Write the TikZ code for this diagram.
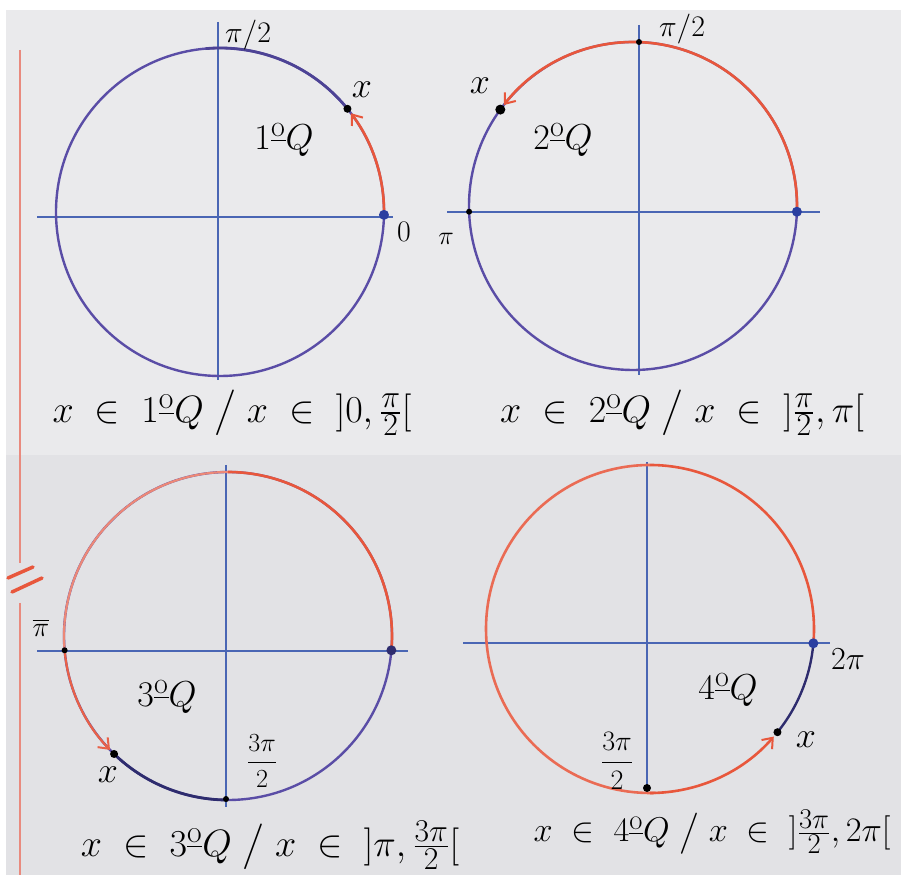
\documentclass[tikz,border=0pt]{standalone}
\usepackage{amsmath}
\usetikzlibrary{arrows.meta,calc}
\newcommand{\myord}{^{\underline{\mathrm{o}}}}
\definecolor{board}{HTML}{EAEAEC}
\definecolor{boardlow}{HTML}{E2E2E5}
\definecolor{circcol}{HTML}{5A4DA6}
\definecolor{axiscol}{HTML}{4A66B4}
\definecolor{arcred}{HTML}{E8573C}
\definecolor{lightred}{HTML}{EC8877}
\definecolor{navy}{HTML}{2E2C6E}
\definecolor{dotblue}{HTML}{2B3FA0}
\definecolor{margincol}{HTML}{E98A7E}
\begin{document}
\begin{tikzpicture}[x=1pt,y=1pt,
  circ/.style={draw=circcol, line width=2.4pt},
  axisline/.style={draw=axiscol, line width=1.6pt},
  redarc/.style={draw=arcred, line width=2.6pt},
  lightarc/.style={draw=lightred, line width=2.2pt},
  navyarc/.style={draw=navy, line width=2.8pt},
  arr/.style={-{Straight Barb[length=9pt,width=14pt,line width=2pt]}},
  dot/.style={fill=black, circle, inner sep=0pt, minimum size=8pt},
  bdot/.style={fill=dotblue, circle, inner sep=0pt, minimum size=10pt},
  lbl/.style={font=\Huge, inner sep=0pt, scale=1.2},
  xlbl/.style={font=\Huge, inner sep=0pt, scale=1.45},
  qlbl/.style={font=\Huge, inner sep=0pt, scale=1.45},
  fraclbl/.style={font=\Huge, inner sep=0pt, scale=1.05},
  captext/.style={font=\Huge, inner sep=0pt, scale=1.53},
]
\useasboundingbox (0,0) rectangle (901,875);
\fill[white] (0,0) rectangle (901,875);
\fill[boardlow] (6,0) rectangle (901,420);
\fill[board] (6,420) rectangle (901,865);

% left margin line with break marks
\coordinate (m1) at (20,825);
\coordinate (m2) at (20,312);
\coordinate (m3) at (20,272);
\coordinate (m4) at (20,0);
\draw[margincol, line width=2.6pt] (m1) -- (m2);
\draw[margincol, line width=2.6pt] (m3) -- (m4);
\coordinate (b1a) at (8,297); \coordinate (b1b) at (33,308);
\coordinate (b2a) at (12,283); \coordinate (b2b) at (42,297);
\draw[arcred, line width=3.5pt, line cap=round] (b1a) -- (b1b);
\draw[arcred, line width=3.5pt, line cap=round] (b2a) -- (b2b);

% ---------- circle 1 ----------
\coordinate (c1) at (220,663);
\coordinate (h1w) at (37,658); \coordinate (h1e) at (393,658);
\coordinate (v1n) at (218,853); \coordinate (v1s) at (218,495);
\draw[axisline] (h1w) -- (h1e);
\draw[axisline] (v1n) -- (v1s);
\draw[circ] (c1) circle[radius=164];
\draw[navyarc, draw=circcol!70!navy] ($(c1)+(39:164)$) arc[start angle=39, end angle=95, radius=164];
\draw[redarc, arr] ($(c1)+(0:164)$) arc[start angle=0, end angle=37, radius=164];
\node[bdot] (z1) at ($(c1)+(-1:164)$) {};
\node[dot] (x1) at ($(c1)+(39:164)$) {};
\node[lbl] (l1a) at (248,840) {$\pi/2$};
\node[xlbl] (l1x) at (362,785) {$x$};
\node[qlbl] (l1q) at (284,735) {$1\myord Q$};
\node[lbl] (l10) at (404,643) {$0$};
\node[captext] (cap1) at (232,462) {$x \;\in\; 1\myord Q \;\big/\; x \;\in\; \mathopen{]}0,\tfrac{\pi}{2}\mathclose{[}$};

% ---------- circle 2 ----------
\coordinate (c2) at (633,669);
\coordinate (h2w) at (447,663); \coordinate (h2e) at (820,663);
\coordinate (v2n) at (639,850); \coordinate (v2s) at (639,500);
\draw[axisline] (h2w) -- (h2e);
\draw[axisline] (v2n) -- (v2s);
\draw[circ] (c2) circle[radius=164];
\draw[redarc, arr] ($(c2)+(-2:164)$) arc[start angle=-2, end angle=142, radius=164];
\node[bdot] (z2) at ($(c2)+(-2:164)$) {};
\node[dot, minimum size=6pt] (t2) at (639,833) {};
\node[dot, minimum size=6pt] (p2) at ($(c2)+(182:164)$) {};
\node[dot, minimum size=10pt] (x2) at ($(c2)+(144:164)$) {};
\node[lbl] (l2a) at (682,846) {$\pi/2$};
\node[xlbl] (l2x) at (480,789) {$x$};
\node[qlbl] (l2q) at (563,735) {$2\myord Q$};
\node[font=\Huge, inner sep=0pt, scale=1.05] (l2p) at (446,636) {$\pi$};
\node[captext] (cap2) at (682,462) {$x \;\in\; 2\myord Q \;\big/\; x \;\in\; \mathopen{]}\tfrac{\pi}{2},\pi\mathclose{[}$};

% ---------- circle 3 ----------
\coordinate (c3) at (228,239);
\coordinate (h3w) at (37,224); \coordinate (h3e) at (408,224);
\coordinate (v3n) at (226,410); \coordinate (v3s) at (226,68);
\draw[axisline] (h3w) -- (h3e);
\draw[axisline] (v3n) -- (v3s);
\draw[circ] (c3) circle[radius=164];
\draw[redarc] ($(c3)+(-5:164)$) arc[start angle=-5, end angle=90, radius=164];
\draw[lightarc] ($(c3)+(90:164)$) arc[start angle=90, end angle=185, radius=164];
\draw[lightarc, draw=arcred!80!lightred, arr] ($(c3)+(185:164)$) arc[start angle=185, end angle=224, radius=164];
\draw[navyarc] ($(c3)+(226:164)$) arc[start angle=226, end angle=270, radius=164];
\node[dot, minimum size=10pt, fill=navy] (z3) at ($(c3)+(-5:164)$) {};
\node[dot, minimum size=6pt] (p3) at ($(c3)+(185:164)$) {};
\node[dot, minimum size=6pt] (s3) at (226,76) {};
\node[dot] (x3) at ($(c3)+(226:164)$) {};
\node[font=\Huge, inner sep=0pt, scale=1.13] (l3p) at (41,247) {$\overline{\pi}$};
\node[qlbl] (l3q) at (167,178) {$3\myord Q$};
\node[xlbl] (l3x) at (108,100) {$x$};
\node[fraclbl] (l3s) at (262,114) {$\dfrac{3\pi}{2}$};
\node[captext] (cap3) at (270,30) {$x \;\in\; 3\myord Q \;\big/\; x \;\in\; \mathopen{]}\pi,\tfrac{3\pi}{2}\mathclose{[}$};

% ---------- circle 4 ----------
\coordinate (c4) at (650,246);
\coordinate (h4w) at (463,232); \coordinate (h4e) at (830,232);
\coordinate (v4n) at (647,413); \coordinate (v4s) at (647,87);
\draw[axisline] (h4w) -- (h4e);
\draw[axisline] (v4n) -- (v4s);
\draw[redarc] ($(c4)+(-5:164)$) arc[start angle=-5, end angle=90, radius=164];
\draw[lightarc, line width=2.6pt, draw=arcred!60!lightred] ($(c4)+(90:164)$) arc[start angle=90, end angle=272, radius=164];
\draw[redarc, arr] ($(c4)+(270:164)$) arc[start angle=270, end angle=319, radius=164];
\draw[navyarc, line width=2.4pt] ($(c4)+(321:164)$) arc[start angle=321, end angle=355, radius=164];
\node[bdot] (z4) at ($(c4)+(-5:164)$) {};
\node[dot] (s4) at (647,87) {};
\node[dot] (x4) at ($(c4)+(321:164)$) {};
\node[font=\Huge, inner sep=0pt, scale=1.29] (l4t) at (848,216) {$2\pi$};
\node[qlbl] (l4q) at (728,185) {$4\myord Q$};
\node[xlbl] (l4x) at (806,135) {$x$};
\node[font=\Huge, inner sep=0pt, scale=1.13] (l4s) at (617,114) {$\dfrac{3\pi}{2}$};
\node[captext, scale=1.38/1.53] (cap4) at (712,43) {$x \;\in\; 4\myord Q \;\big/\; x \;\in\; \mathopen{]}\tfrac{3\pi}{2},2\pi\mathclose{[}$};
\end{tikzpicture}
\end{document}
